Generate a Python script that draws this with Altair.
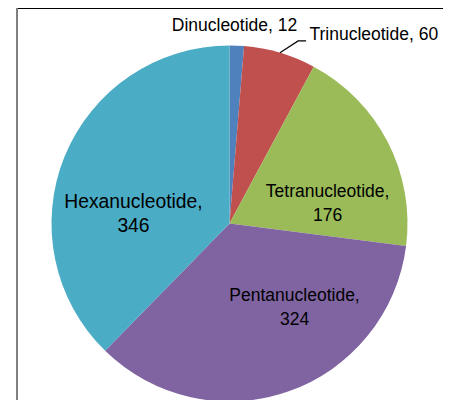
import math
import altair as alt
import pandas as pd

# ---- data ----
CATEGORIES = ["Dinucleotide", "Trinucleotide", "Tetranucleotide", "Pentanucleotide", "Hexanucleotide"]
VALUES = [12, 60, 176, 324, 346]
COLORS = ["#4F81BD", "#C0504D", "#9BBB59", "#8064A2", "#4BACC6"]
TWO_LINE = [False, False, True, True, True]

# ---- layout (label anchors, font sizes) ----
W, H = 435, 392
CX, CY = 221.5, 215.5
R = 178
LABEL_ANGLE = [1.45, 37.5, 78.9, 142.4, 275.7]     # degrees clockwise from top
LABEL_RADIUS = [198, 237, 100, 106.6, 96.5]        # px from pie centre
LABEL_SIZE = [17.5, 17.5, 17.5, 17.5, 19.3]
LINE_HEIGHT = 24
LEADER_ELBOW = (20.6, 195)   # angle, radius of leader elbow for Trinucleotide
LEADER_TAIL = 8

FONT = "Liberation Sans"

pie_df = pd.DataFrame({"cat": CATEGORIES, "value": VALUES, "idx": list(range(len(VALUES)))})

labels = []
for c, v, two in zip(CATEGORIES, VALUES, TWO_LINE):
    labels.append(f"{c},\n{v}" if two else f"{c}, {v}")
lab_df = pd.DataFrame({
    "label": labels,
    "ang": LABEL_ANGLE,
    "r": LABEL_RADIUS,
    "fs": LABEL_SIZE,
    "multi": [1 if t else 0 for t in TWO_LINE],
})

# leader line for Trinucleotide, starting at the slice's mid angle on the rim
total = sum(VALUES)
i_tri = CATEGORIES.index("Trinucleotide")
mid = (sum(VALUES[:i_tri]) + VALUES[i_tri] / 2) / total * 2 * math.pi
ea = math.radians(LEADER_ELBOW[0])
p0 = (CX + R * math.sin(mid), CY - R * math.cos(mid))
p1 = (CX + LEADER_ELBOW[1] * math.sin(ea), CY - LEADER_ELBOW[1] * math.cos(ea))
p2 = (p1[0] + LEADER_TAIL, p1[1])
lead_df = pd.DataFrame({"x": [p0[0], p1[0], p2[0]], "y": [p0[1], p1[1], p2[1]], "o": [0, 1, 2]})

pie = alt.Chart(pie_df).mark_arc(outerRadius=R).encode(
    theta=alt.Theta("value:Q", stack=True),
    color=alt.Color("cat:N", scale=alt.Scale(domain=CATEGORIES, range=COLORS), legend=None),
    order=alt.Order("idx:Q", sort="ascending"),
    x=alt.value(CX),
    y=alt.value(CY),
)


def label_layer(multi, dy):
    return alt.Chart(lab_df).transform_filter(
        alt.datum.multi == multi
    ).mark_text(
        font=FONT, color="#000000", align="center", baseline="middle",
        lineBreak="\n", lineHeight=LINE_HEIGHT, dy=dy
    ).encode(
        theta=alt.Theta("ang:Q", scale=alt.Scale(domain=[0, 360], range=[0, 2 * math.pi])),
        radius=alt.Radius("r:Q", scale=None),
        size=alt.Size("fs:Q", scale=None, legend=None),
        text="label:N",
        x=alt.value(CX),
        y=alt.value(CY),
    )


text_single = label_layer(0, 0)
text_multi = label_layer(1, -LINE_HEIGHT / 2)

leader = alt.Chart(lead_df).mark_line(color="#000000", strokeWidth=1.2).encode(
    x=alt.X("x:Q", scale=None, axis=None),
    y=alt.Y("y:Q", scale=None, axis=None),
    order="o:Q",
)

top_rule = alt.Chart(pie_df).mark_rule(color="#000000", strokeWidth=1).encode(
    x=alt.value(8), x2=alt.value(W), y=alt.value(0.5)
)
left_rule = alt.Chart(pie_df).mark_rule(color="#808080", strokeWidth=2).encode(
    x=alt.value(9), y=alt.value(0), y2=alt.value(H)
)

chart = alt.layer(pie, text_single, text_multi, leader, top_rule, left_rule).resolve_scale(
    theta="independent"
).properties(
    width=W, height=H, padding=0, autosize=alt.AutoSizeParams(type="none")
).configure_view(stroke=None)

chart.save("out.html", embed_options={"renderer": "svg", "actions": False})
